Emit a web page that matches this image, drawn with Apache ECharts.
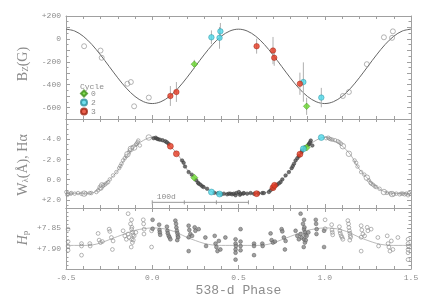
<!DOCTYPE html>
<html><head><meta charset="utf-8">
<script src="https://cdn.jsdelivr.net/npm/echarts@6/dist/echarts.min.js"></script>
<style>html,body{margin:0;padding:0;background:#fff}#c{width:436px;height:298px}</style>
</head><body><div id="c"></div>
<script>
// ---------- data ----------
const phaseTickValues = [-0.5, 0, 0.5, 1, 1.5];
const phaseTickLabels = ['-0.5', '0.0', '0.5', '1.0', '1.5'];
const bzTickValues = [200, 0, -200, -400, -600];
const bzTickLabels = ['+200', '0', '-200', '-400', '-600'];
const haTickValues = [-4, -2, 0, 2];
const haTickLabels = ['-4.0', '-2.0', '0.0', '+2.0'];
const hpTickValues = [7.85, 7.90];
const hpTickLabels = ['+7.85', '+7.90'];
const cycleNames = ['0', '2', '3'];

// fitted curves, phase -0.5 .. 1.5 step 0.05
const bzFit = [85,69,23,-49,-140,-240,-340,-431,-503,-549,-565,-549,-503,-431,-340,-240,-140,-49,23,69,85,
  69,23,-49,-140,-240,-340,-431,-503,-549,-565,-549,-503,-431,-340,-240,-140,-49,23,69,85];
const haFit = [1.35,1.35,1.35,1.32,0.75,0.05,-0.9,-2.3,-3.3,-3.9,
  -4.2,-3.85,-3.35,-2.45,-1.05,-0.1,0.72,1.22,1.35,1.35,1.35,1.35,1.35,1.32,0.75,0.05,-0.9,-2.3,-3.3,-3.9,-4.2,
  -3.85,-3.35,-2.45,-1.05,-0.1,0.72,1.22,1.35,1.35,1.35];
const hpFit = [7.892,7.892,7.892,7.891,7.886,7.878,7.870,7.862,7.855,7.851,
  7.849,7.850,7.854,7.862,7.872,7.880,7.887,7.891,7.892,7.892,7.892,7.892,7.892,7.891,7.886,7.878,7.870,7.862,7.855,7.851,7.849,
  7.850,7.854,7.862,7.872,7.880,7.887,7.891,7.892,7.892,7.892];

// Bz (G): [phase, value, error]
const cycle0Bz = [[0.244,-221,38],[0.895,-589,75]];
const cycle2Bz = [[0.343,14,60],[0.39,9,95],[0.395,66,73],[0.876,-377,172],[0.98,-513,85]];
const cycle3Bz = [[0.105,-499,87],[0.14,-464,87],[0.605,-64,65],[0.70,-102,119],[0.707,-165,70],[0.856,-392,97]];

// H-alpha equivalent width: [phase, value]
const cycle0Ha = [[0.244,-0.2],[0.895,-3.18]];
const cycle2Ha = [[0.343,1.22],[0.39,1.42],[0.876,-3.05],[0.98,-4.17]];
const cycle3Ha = [[0.105,-3.31],[0.14,-2.56],[0.605,1.38],[0.70,0.79],[0.709,0.56],[0.856,-2.52]];
const otherHa = [[0.008,-4.1],[0.02,-4.15],[0.027,-4.05],[0.035,-4.0],[0.045,-3.95],[0.06,-3.9],[0.076,-3.8],[0.085,-3.7],[0.095,-3.55],
  [0.173,-1.9],[0.182,-1.67],[0.19,-1.3],[0.211,-0.75],[0.229,-0.5],[0.255,0.05],[0.265,0.3],[0.27,0.4],[0.28,0.5],[0.29,0.66],[0.298,0.73],[0.318,0.9],
  [0.36,1.3],[0.38,1.35],[0.40,1.45],[0.415,1.38],[0.434,1.45],[0.444,1.38],[0.453,1.38],[0.463,1.45],[0.473,1.38],[0.483,1.54],[0.488,1.32],
  [0.502,1.22],[0.508,1.5],[0.512,1.38],[0.527,1.38],[0.531,1.32],[0.55,1.38],[0.57,1.32],[0.59,1.4],[0.615,1.35],[0.638,1.32],[0.647,1.32],
  [0.676,1.22],[0.686,1.05],[0.70,0.83],[0.715,0.56],[0.725,0.49],[0.735,0.35],[0.744,0.24],[0.754,-0.03],[0.773,-0.42],[0.792,-0.75],
  [0.808,-1.14],[0.815,-1.35],[0.822,-1.58],[0.831,-1.9],[0.841,-2.13],[0.85,-2.33],
  [0.865,-2.7],[0.87,-2.9],[0.885,-3.2],[0.905,-3.45],[0.909,-3.55],[0.915,-3.7],[0.919,-3.87],[0.928,-3.38]];

// Hipparcos Hp (mag): [phase, value]
const otherHp = [[0.002,7.829],[0.002,7.851],[0.04,7.841],[0.042,7.854],[0.044,7.86],[0.046,7.866],
  [0.085,7.846],[0.088,7.856],[0.09,7.862],[0.095,7.868],[0.1,7.872],[0.105,7.877],
  [0.134,7.831],[0.138,7.839],[0.14,7.848],[0.143,7.856],[0.146,7.862],[0.148,7.868],[0.15,7.872],[0.145,7.879],
  [0.211,7.8435],[0.211,7.906],[0.215,7.854],[0.221,7.864],[0.231,7.8685],[0.246,7.8475],[0.25,7.856],[0.269,7.852],[0.211,7.872],
  [0.308,7.8725],[0.312,7.8935],
  [0.362,7.8685],[0.367,7.8875],[0.372,7.896],[0.378,7.906],[0.386,7.881],[0.395,7.902],[0.424,7.8725],
  [0.483,7.877],[0.483,7.8875],[0.485,7.8935],[0.483,7.902],[0.483,7.91],[0.483,7.927],[0.512,7.852],[0.512,7.8825],[0.512,7.8935],[0.512,7.904],
  [0.59,7.8875],[0.59,7.8935],[0.59,7.916],[0.638,7.8875],[0.64,7.8935],
  [0.686,7.8625],[0.692,7.879],[0.70,7.885],[0.711,7.8825],
  [0.75,7.852],[0.754,7.8575],[0.763,7.8725],[0.769,7.902],[0.773,7.881],
  [0.831,7.856],[0.841,7.8685],[0.85,7.877],[0.86,7.814],[0.86,7.864],[0.866,7.8725],[0.874,7.839],[0.88,7.852],[0.88,7.877],[0.885,7.885],
  [0.88,7.829],[0.882,7.8475],[0.885,7.86],[0.888,7.866],[0.89,7.879],[0.878,7.896],[0.895,7.8685],[0.905,7.86],
  [0.948,7.829],[0.95,7.839],[0.952,7.864],[0.953,7.852],
  [0.996,7.856],[0.996,7.896]];

const PERIOD_DAYS = 538;
const SCALE_BAR_DAYS = 100;
const SCALE_BAR_SEGMENTS = 3;
const SCALE_BAR_START = 0;
const SCALE_BAR_LEVEL = 2.24;

// ---------- helpers ----------
const curvePhases = [];
for (let i = 0; i <= 40; i++) curvePhases.push(+(-0.5 + i * 0.05).toFixed(2));
const zipCurve = vals => vals.map((v, i) => [curvePhases[i], v]);
// phase-folded repeats shown as open symbols outside 0..1
const foldCopies = pts => pts.map(p => [p[0] < 0.5 ? p[0] + 1 : p[0] - 1].concat(p.slice(1)));
const lookup = (vals, labels) => v => {
  for (let i = 0; i < vals.length; i++) if (Math.abs(v - vals[i]) < 1e-6) return labels[i];
  return '';
};

const GRAY = '#8c8c8c', AXIS = '#a0a0a0';
const MONO = 'Liberation Mono', SERIF = 'Liberation Serif';
const grids = [
  {left: 66, right: 25, top: 16, height: 103},
  {left: 66, right: 25, top: 119, height: 89},
  {left: 66, right: 25, top: 208, height: 61}
];
const common = {
  axisLine: {onZero: false, lineStyle: {color: AXIS, width: 1}},
  axisTick: {inside: true, length: 4, lineStyle: {color: AXIS}},
  minorTick: {show: true, splitNumber: 5, length: 2.5, lineStyle: {color: AXIS}},
  splitLine: {show: false}, minorSplitLine: {show: false}
};
const xAxes = [], yAxes = [];
const yCfg = [
  {min: -700, max: 200, interval: 100, split: 2, inverse: false, fmt: lookup(bzTickValues, bzTickLabels)},
  {min: -6, max: 2.8, interval: 2, split: 4, inverse: true, fmt: lookup(haTickValues, haTickLabels)},
  {min: 7.80, max: 7.95, interval: 0.05, split: 5, inverse: true, fmt: lookup(hpTickValues, hpTickLabels)}
];
for (let g = 0; g < 3; g++) {
  xAxes.push(Object.assign({}, common, {
    type: 'value', gridIndex: g, position: 'bottom', min: -0.5, max: 1.5, interval: 0.5,
    axisTick: {inside: true, length: 4, lineStyle: {color: AXIS}},
    minorTick: {show: true, splitNumber: 5, length: 3, lineStyle: {color: AXIS}},
    axisLabel: g === 2 ? {show: true, margin: 5, color: GRAY, fontFamily: MONO, fontSize: 8,
      formatter: lookup(phaseTickValues, phaseTickLabels)} : {show: false},
    name: g === 2 ? '538-d Phase' : '', nameLocation: 'middle', nameGap: 15,
    nameTextStyle: {color: GRAY, fontFamily: MONO, fontSize: 13}
  }));
  xAxes.push(Object.assign({}, common, {
    type: 'value', gridIndex: g, position: 'top', min: -0.5, max: 1.5, interval: 0.5,
    minorTick: {show: true, splitNumber: 5, length: 3, lineStyle: {color: AXIS}},
    axisLabel: {show: false}
  }));
  const c = yCfg[g];
  yAxes.push(Object.assign({}, common, {
    type: 'value', gridIndex: g, position: 'left', min: c.min, max: c.max, interval: c.interval, inverse: c.inverse,
    minorTick: {show: true, splitNumber: c.split, length: 2.5, lineStyle: {color: AXIS}},
    axisLabel: {show: true, margin: 5, color: GRAY, fontFamily: MONO, fontSize: 8, formatter: c.fmt,
      showMinLabel: true, showMaxLabel: true}
  }));
  yAxes.push(Object.assign({}, common, {
    type: 'value', gridIndex: g, position: 'right', min: c.min, max: c.max, interval: c.interval, inverse: c.inverse,
    minorTick: {show: true, splitNumber: c.split, length: 2.5, lineStyle: {color: AXIS}},
    axisLabel: {show: false}
  }));
}

const colorOf = {'0': '#66d62b', '2': '#4ed8ea', '3': '#e63a22'};
const borderOf = {'0': '#3f8f1a', '2': '#2a8e9c', '3': '#9c2413'};
const symbolOf = {'0': 'diamond', '2': 'circle', '3': 'circle'};
const bzByCycle = {'0': cycle0Bz, '2': cycle2Bz, '3': cycle3Bz};
const haByCycle = {'0': cycle0Ha, '2': cycle2Ha, '3': cycle3Ha};
const allBz = cycle0Bz.concat(cycle2Bz, cycle3Bz);
const allHaColored = cycle0Ha.concat(cycle2Ha, cycle3Ha);

const openStyle = {color: 'rgba(255,255,255,0)', borderColor: '#8a8a8a', borderWidth: 0.8};
const series = [];
// --- panel 1: Bz ---
series.push({type: 'line', xAxisIndex: 0, yAxisIndex: 0, data: zipCurve(bzFit), smooth: 0.35, symbol: 'none',
  lineStyle: {color: '#666', width: 1}, silent: true, z: 2});
series.push({type: 'custom', xAxisIndex: 0, yAxisIndex: 0, data: allBz, z: 3,
  renderItem: (params, api) => {
    const x = api.value(0), y = api.value(1), e = api.value(2);
    const a = api.coord([x, y - e]), b = api.coord([x, y + e]);
    return {type: 'line', shape: {x1: a[0], y1: a[1], x2: b[0], y2: b[1]}, style: {stroke: '#b0b0b0', lineWidth: 1}};
  }});
series.push({type: 'scatter', xAxisIndex: 0, yAxisIndex: 0, data: foldCopies(allBz), symbolSize: 5,
  itemStyle: openStyle, z: 4});
cycleNames.forEach(n => series.push({type: 'scatter', name: n, xAxisIndex: 0, yAxisIndex: 0, data: bzByCycle[n],
  symbol: symbolOf[n], symbolSize: n === '0' ? 6.5 : 5.5,
  itemStyle: {color: colorOf[n], borderColor: borderOf[n], borderWidth: 0.6}, z: 6}));
// --- panel 2: H-alpha ---
series.push({type: 'line', xAxisIndex: 2, yAxisIndex: 2, data: zipCurve(haFit), smooth: 0.35, symbol: 'none',
  lineStyle: {color: '#a0a0a0', width: 0.8}, silent: true, z: 2});
series.push({type: 'scatter', xAxisIndex: 2, yAxisIndex: 2, data: foldCopies(otherHa), symbolSize: 3.5,
  itemStyle: openStyle, z: 4});
series.push({type: 'scatter', xAxisIndex: 2, yAxisIndex: 2, data: foldCopies(allHaColored), symbolSize: 5.5,
  itemStyle: openStyle, z: 4});
series.push({type: 'scatter', xAxisIndex: 2, yAxisIndex: 2, data: otherHa, symbolSize: 3.5,
  itemStyle: {color: '#555', borderColor: '#333', borderWidth: 0.6}, z: 5});
cycleNames.forEach(n => series.push({type: 'scatter', name: n, xAxisIndex: 2, yAxisIndex: 2, data: haByCycle[n],
  symbol: symbolOf[n], symbolSize: n === '0' ? 7 : 6,
  itemStyle: {color: colorOf[n], borderColor: borderOf[n], borderWidth: 0.6}, z: 6}));
series.push({type: 'custom', xAxisIndex: 2, yAxisIndex: 2, data: [[SCALE_BAR_START, SCALE_BAR_LEVEL]], z: 3,
  renderItem: (params, api) => {
    const x0 = api.value(0), y = api.value(1);
    const seg = SCALE_BAR_DAYS / PERIOD_DAYS;
    const a = api.coord([x0, y]), b = api.coord([x0 + seg * SCALE_BAR_SEGMENTS, y]);
    const kids = [{type: 'line', shape: {x1: a[0], y1: a[1], x2: b[0], y2: b[1]}, style: {stroke: '#999', lineWidth: 1}}];
    for (let i = 0; i <= SCALE_BAR_SEGMENTS; i++) {
      const p = api.coord([x0 + seg * i, y]);
      kids.push({type: 'line', shape: {x1: p[0], y1: p[1] - 2, x2: p[0], y2: p[1] + 2}, style: {stroke: '#999', lineWidth: 1}});
    }
    const c = api.coord([x0 + seg / 2, y]);
    kids.push({type: 'text', x: c[0] - 2, y: c[1] - 1.5, style: {text: SCALE_BAR_DAYS + 'd', fill: GRAY,
      font: '8px "Liberation Mono"', textAlign: 'center', textVerticalAlign: 'bottom', align: 'center', verticalAlign: 'bottom'}});
    return {type: 'group', children: kids};
  }});
// --- panel 3: Hp ---
series.push({type: 'line', xAxisIndex: 4, yAxisIndex: 4, data: zipCurve(hpFit), smooth: 0.35, symbol: 'none',
  lineStyle: {color: '#a8a8a8', width: 0.8}, silent: true, z: 2});
series.push({type: 'scatter', xAxisIndex: 4, yAxisIndex: 4, data: foldCopies(otherHp), symbolSize: 3.8,
  itemStyle: openStyle, z: 4});
series.push({type: 'scatter', xAxisIndex: 4, yAxisIndex: 4, data: otherHp, symbolSize: 3.8,
  itemStyle: {color: '#8a8a8a', borderColor: '#555', borderWidth: 0.6}, z: 5});

const chart = echarts.init(document.getElementById('c'), null, {renderer: 'canvas'});
chart.setOption({
  animation: false,
  backgroundColor: '#fff',
  grid: grids,
  xAxis: xAxes,
  yAxis: yAxes,
  legend: {data: cycleNames, orient: 'vertical', left: 80, top: 89.5, padding: 0, itemGap: 1,
    itemWidth: 6, itemHeight: 6, selectedMode: false,
    textStyle: {color: GRAY, fontFamily: MONO, fontSize: 8, lineHeight: 6, padding: [0, 0, 0, -1]}},
  graphic: [
    {type: 'text', x: 80, y: 87, style: {text: 'Cycle', fill: GRAY, font: '8px "Liberation Mono"',
      textAlign: 'left', textVerticalAlign: 'middle'}},
    {type: 'text', x: 22, y: 64, rotation: Math.PI / 2, style: {text: '{a|B}{s|Z}{a|(G)}', fill: GRAY,
      textAlign: 'center', textVerticalAlign: 'middle',
      rich: {a: {fontFamily: SERIF, fontSize: 14, color: GRAY, lineHeight: 16, verticalAlign: 'bottom'},
             s: {fontFamily: SERIF, fontSize: 9, color: GRAY, lineHeight: 12, verticalAlign: 'bottom'}}}},
    {type: 'text', x: 22, y: 165, rotation: Math.PI / 2, style: {text: '{a|W}{s|λ}{a|(Å), Hα}', fill: GRAY,
      textAlign: 'center', textVerticalAlign: 'middle',
      rich: {a: {fontFamily: SERIF, fontSize: 14, color: GRAY, lineHeight: 16, verticalAlign: 'bottom'},
             s: {fontFamily: SERIF, fontSize: 9, color: GRAY, lineHeight: 12, verticalAlign: 'bottom'}}}},
    {type: 'text', x: 22, y: 238, rotation: Math.PI / 2, style: {text: '{a|H}{s|p}', fill: GRAY,
      textAlign: 'center', textVerticalAlign: 'middle',
      rich: {a: {fontFamily: SERIF, fontStyle: 'italic', fontSize: 14, color: GRAY, lineHeight: 16, verticalAlign: 'bottom'},
             s: {fontFamily: SERIF, fontSize: 9, color: GRAY, lineHeight: 12, verticalAlign: 'bottom'}}}}
  ],
  series: series
});
</script>
</body></html>
